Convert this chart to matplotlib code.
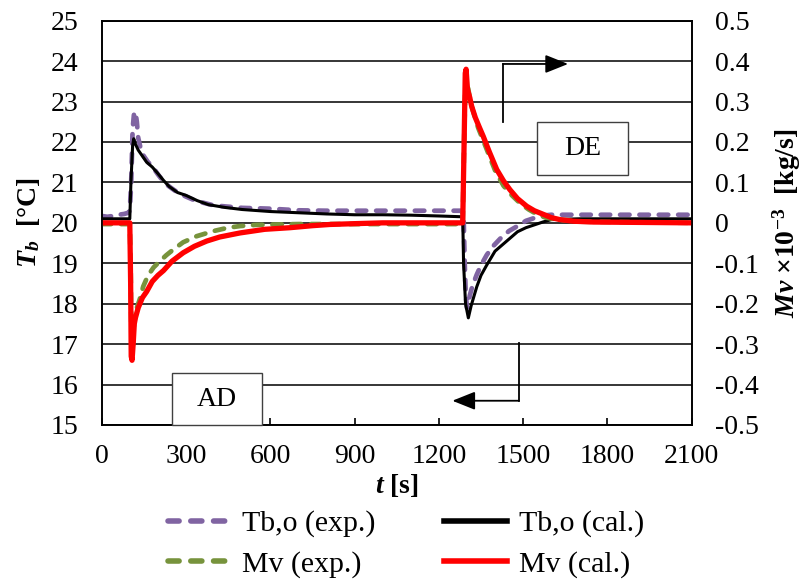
import matplotlib
matplotlib.use("Agg")
import matplotlib.pyplot as plt
from matplotlib.patches import Rectangle

plt.rcParams['font.family'] = ['Liberation Serif', 'DejaVu Serif']
plt.rcParams['mathtext.fontset'] = 'custom'
plt.rcParams['mathtext.rm'] = 'Liberation Serif'
plt.rcParams['mathtext.it'] = 'Liberation Serif:italic'
plt.rcParams['mathtext.bf'] = 'Liberation Serif:bold'
plt.rcParams['mathtext.bfit'] = 'Liberation Serif:bold:italic'

# ---- outlet brine temperature, experiment ----
t_tb_exp = [0, 20, 40, 60, 80, 95, 100, 105, 110, 115, 120, 125, 130, 140, 150, 165,
            180, 200, 220, 240, 260, 280, 300, 330, 360, 400, 450, 500, 550, 600,
            650, 700, 800, 900, 1000, 1100, 1200, 1280, 1288, 1292, 1296, 1300, 1305,
            1310, 1320, 1335, 1350, 1370, 1390, 1420, 1450, 1480, 1510, 1540, 1570,
            1600, 1650, 1700, 1800, 1900, 2000, 2100]
tb_exp = [20.17, 20.15, 20.17, 20.2, 20.22, 20.25, 20.3, 21.0, 22.3, 22.7, 22.75, 22.5,
          22.1, 21.8, 21.65, 21.5, 21.4, 21.2, 21.02, 20.9, 20.8, 20.72, 20.65, 20.56,
          20.5, 20.43, 20.4, 20.37, 20.36, 20.35, 20.33, 20.31, 20.3, 20.3, 20.3, 20.3,
          20.3, 20.3, 20.2, 19.0, 18.2, 17.9, 18.0, 18.2, 18.45, 18.72, 18.95, 19.2,
          19.4, 19.62, 19.8, 19.92, 20.05, 20.12, 20.18, 20.2, 20.2, 20.2, 20.2, 20.2,
          20.2, 20.2]

# ---- outlet brine temperature, calculation ----
t_tb_cal = [0, 100, 104, 110, 114, 120, 130, 145, 160, 180, 200, 220, 240, 270, 300,
            340, 380, 440, 500, 600, 700, 800, 900, 1000, 1100, 1200, 1285, 1288, 1295,
            1305, 1315, 1335, 1350, 1370, 1400, 1420, 1450, 1480, 1510, 1540, 1570,
            1600, 1700, 2100]
tb_cal = [20.1, 20.1, 21.0, 21.9, 22.08, 21.95, 21.8, 21.65, 21.5, 21.38, 21.22, 21.05,
          20.9, 20.75, 20.68, 20.55, 20.45, 20.38, 20.33, 20.28, 20.25, 20.22, 20.2,
          20.2, 20.19, 20.17, 20.15, 19.0, 18.0, 17.65, 17.95, 18.42, 18.7, 18.95, 19.3,
          19.42, 19.6, 19.78, 19.88, 19.95, 20.02, 20.08, 20.1, 20.1]

# ---- vapour mass flow rate, experiment ----
t_mv_exp = [0, 100, 103, 106, 110, 115, 125, 135, 148, 165, 185, 207, 230, 255, 290,
            338, 400, 450, 492, 550, 700, 900, 1285, 1290, 1295, 1300, 1310, 1320, 1340,
            1360, 1380, 1400, 1430, 1460, 1490, 1520, 1550, 1580, 1620, 1700, 2100]
mv_exp = [-0.003, -0.003, -0.1, -0.3, -0.31, -0.25, -0.21, -0.19, -0.157, -0.13, -0.11,
          -0.095, -0.08, -0.066, -0.048, -0.033, -0.02, -0.012, -0.008, -0.005, -0.003,
          -0.003, -0.003, 0.2, 0.36, 0.35, 0.31, 0.28, 0.235, 0.2, 0.165, 0.13, 0.092,
          0.068, 0.048, 0.033, 0.021, 0.013, 0.008, 0.003, 0.0]

# ---- vapour mass flow rate, calculation ----
t_mv_cal = [0, 100, 103, 105, 108, 112, 116, 120, 130, 145, 160, 180, 200, 220, 250,
            290, 330, 374, 420, 492, 580, 670, 750, 812, 900, 1000, 1285, 1290, 1294,
            1297, 1302, 1310, 1317, 1330, 1345, 1358, 1380, 1406, 1430, 1453, 1480,
            1513, 1540, 1572, 1600, 1631, 1680, 1750, 2100]
mv_cal = [0.0, 0.0, -0.15, -0.33, -0.34, -0.3, -0.25, -0.235, -0.21, -0.185, -0.17,
          -0.145, -0.13, -0.118, -0.095, -0.074, -0.058, -0.045, -0.035, -0.025, -0.016,
          -0.012, -0.007, -0.004, -0.002, 0.0, 0.0, 0.2, 0.37, 0.38, 0.33, 0.31, 0.288,
          0.26, 0.235, 0.214, 0.175, 0.132, 0.104, 0.082, 0.06, 0.041, 0.03, 0.021,
          0.013, 0.008, 0.004, 0.002, 0.0]

x_ticks = [0, 300, 600, 900, 1200, 1500, 1800, 2100]
tb_ticks = [15, 16, 17, 18, 19, 20, 21, 22, 23, 24, 25]
mv_ticks = [-0.5, -0.4, -0.3, -0.2, -0.1, 0.0, 0.1, 0.2, 0.3, 0.4, 0.5]
mv_tick_labels = ["-0.5", "-0.4", "-0.3", "-0.2", "-0.1", "0",
                  "0.1", "0.2", "0.3", "0.4", "0.5"]

PURPLE = "#8064A2"
GREEN = "#77933C"
RED = "#FF0000"
FS = 20

fig = plt.figure(figsize=(8.1, 5.82), dpi=100)
ax = fig.add_axes([101.7 / 810, 1 - 425 / 582, 590 / 810, 404.3 / 582])
ax2 = ax.twinx()

ax.set_xlim(0, 2100)
ax.set_ylim(15, 25)
ax2.set_ylim(-0.5, 0.5)
ax.set_xticks(x_ticks)
ax.set_yticks(tb_ticks)
ax2.set_yticks(mv_ticks)
ax2.set_yticklabels(mv_tick_labels)

ax.grid(axis='y', color='black', linewidth=1.1)
ax.set_axisbelow(True)
for a in (ax, ax2):
    for s in a.spines.values():
        s.set_linewidth(1.2)
        s.set_color('black')
ax.tick_params(axis='x', direction='in', length=5, width=1.2, labelsize=FS, pad=14)
ax.tick_params(axis='y', length=0, labelsize=FS, pad=17)
ax2.tick_params(axis='y', length=0, labelsize=FS, pad=17)

dash_kw = dict(dashes=(2.0, 2.1), dash_capstyle='round', solid_capstyle='round')
h_tb_exp, = ax.plot(t_tb_exp, tb_exp, color=PURPLE, lw=3.4, label='Tb,o (exp.)', **dash_kw)
h_tb_cal, = ax.plot(t_tb_cal, tb_cal, color='black', lw=2.2, label='Tb,o (cal.)')
h_mv_exp, = ax2.plot(t_mv_exp, mv_exp, color=GREEN, lw=3.4, label='Mv (exp.)', **dash_kw)
h_mv_cal, = ax2.plot(t_mv_cal, mv_cal, color=RED, lw=3.8, label='Mv (cal.)')

ax.set_xlabel(r'$\mathbfit{t}$ [s]', fontsize=FS, fontweight='bold', labelpad=2)
ax.set_ylabel(r'$\mathbfit{T}_{\mathbfit{b}}$  [°C]', fontsize=FS, fontweight='bold', labelpad=6)
ax2.set_ylabel(r'$\mathbfit{Mv}$ $\mathbf{\times 10^{-3}}$  [kg/s]', fontsize=FS,
               fontweight='bold', labelpad=8)

# Process labels in framed boxes (tb-axis data coordinates)
trans = ax.transData
for (x0, x1, y0, y1, txt) in [(250, 571, 15.0, 16.28, 'AD'), (1549, 1873, 21.18, 22.49, 'DE')]:
    ax2.add_patch(Rectangle((x0, y0), x1 - x0, y1 - y0, transform=trans,
                            facecolor='white', edgecolor='#404040', lw=1.0, zorder=5,
                            clip_on=False))
    ax2.text((x0 + x1) / 2, (y0 + y1) / 2, txt, transform=trans, ha='center',
             va='center', fontsize=FS, zorder=6)

# Arrows showing which axis each curve group belongs to
arrow_kw = dict(arrowstyle='-|>,head_length=0.7,head_width=0.28', color='black',
                lw=1.3, mutation_scale=20, shrinkA=0, shrinkB=0)
ax2.plot([1428, 1428], [22.49, 23.93], color='black', lw=1.3, transform=trans, zorder=6)
ax2.annotate('', xy=(1660, 23.93), xytext=(1428, 23.93), xycoords=trans,
             textcoords=trans, arrowprops=arrow_kw, zorder=6)
ax2.plot([1485, 1485], [17.03, 15.6], color='black', lw=1.3, transform=trans, zorder=6)
ax2.annotate('', xy=(1248, 15.6), xytext=(1485, 15.6), xycoords=trans,
             textcoords=trans, arrowprops=arrow_kw, zorder=6)

leg = fig.legend(handles=[h_tb_exp, h_mv_exp, h_tb_cal, h_mv_cal], ncol=2,
                 loc='center', bbox_to_anchor=(406 / 810, 1 - 544 / 582), frameon=False,
                 fontsize=21.5, handlelength=2.1, handletextpad=0.4, columnspacing=2.3,
                 labelspacing=0.45, borderpad=0)
for ln in leg.get_lines():
    ln.set_linewidth(4.0)

fig.savefig('out.png', dpi=100)
